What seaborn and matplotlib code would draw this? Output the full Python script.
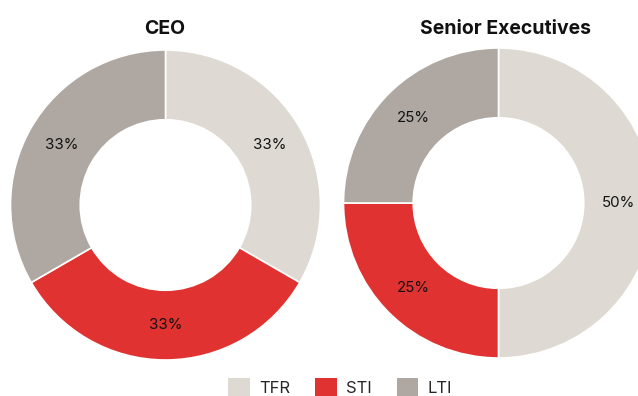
import matplotlib
matplotlib.use("Agg")
import matplotlib.pyplot as plt
from matplotlib.patches import Patch
import seaborn as sns

sns.set_theme(style="white")
plt.rcParams["font.family"] = ["Inter", "DejaVu Sans"]

components = ["TFR", "STI", "LTI"]
ceo_mix = [33, 33, 33]
exec_mix = [50, 25, 25]
titles = ["CEO", "Senior Executives"]
palette = sns.color_palette(["#DEDAD3", "#E03331", "#AFA8A2"])

W, H = 638, 396
fig = plt.figure(figsize=(W / 100, H / 100), dpi=100)
fig.patch.set_facecolor("white")

R = 155  # outer radius in pixels
centers = [(165.5, 205), (498.5, 203)]
title_x = [165, 506]

for (cx, cy), tx, mix, title in zip(centers, title_x, [ceo_mix, exec_mix], titles):
    ax = fig.add_axes([(cx - R) / W, (H - cy - R) / H, 2 * R / W, 2 * R / H])
    ax.pie(
        mix,
        colors=palette,
        startangle=90,
        counterclock=False,
        radius=1,
        autopct=lambda p: f"{p:.0f}%",
        pctdistance=0.775,
        wedgeprops=dict(width=0.45, edgecolor="white", linewidth=1.2),
        textprops=dict(fontsize=10.8, color="#111111"),
    )
    ax.set_xlim(-1, 1)
    ax.set_ylim(-1, 1)
    ax.set_aspect("equal")
    ax.axis("off")
    fig.text(tx / W, 1 - 29 / H, title, ha="center", va="center",
             fontsize=14, fontweight="bold", color="#111111")

handles = [Patch(facecolor=c, edgecolor="none") for c in palette]
fig.legend(handles, components, loc="center", ncol=3,
           bbox_to_anchor=(340 / W, 1 - 387 / H), frameon=False,
           fontsize=12, handlelength=1.3, handleheight=1.3,
           columnspacing=1.5, handletextpad=0.55)

fig.savefig("out.png", dpi=100, facecolor="white")
